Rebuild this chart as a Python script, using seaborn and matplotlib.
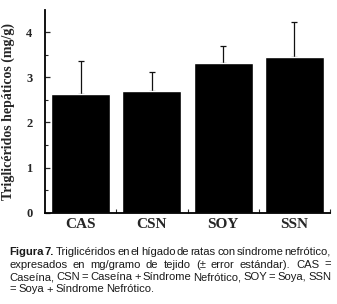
import numpy as np
import pandas as pd
import matplotlib
matplotlib.use("Agg")
import matplotlib.pyplot as plt
from matplotlib import font_manager
import seaborn as sns

# data
groups = ["CAS", "CSN", "SOY", "SSN"]
trig = [2.62, 2.69, 3.31, 3.44]
err_up = [0.75, 0.42, 0.39, 0.78]

caption_lines = [
    [("Figura", True), ("7.", True), ("Triglicéridos", False), ("en", False), ("el", False),
     ("hígado", False), ("de", False), ("ratas", False), ("con", False), ("síndrome", False),
     ("nefrótico,", False)],
    [(w, False) for w in "expresados en mg/gramo de tejido (± error estándar). CAS =".split()],
    [(w, False) for w in "Caseína, CSN = Caseína + Síndrome Nefrótico, SOY = Soya, SSN".split()],
    [(w, False) for w in "= Soya + Síndrome Nefrótico.".split()],
]

sns.set_style("ticks")
plt.rcParams["font.family"] = ["Liberation Serif", "DejaVu Serif"]

W, H = 337, 304
fig = plt.figure(figsize=(W / 100, H / 100), dpi=100)
ax = fig.add_axes([45 / W, 1 - 212.7 / H, 285 / W, 202.7 / H])

df = pd.DataFrame({"grupo": groups, "tg": trig})
sns.barplot(data=df, x="grupo", y="tg", color="black", saturation=1,
            width=0.83, errorbar=None, ax=ax, zorder=2)
ax.errorbar(np.arange(len(groups)), trig, yerr=[np.zeros(len(groups)), err_up],
            fmt="none", ecolor="#111111", elinewidth=0.9, capsize=2, capthick=0.9,
            zorder=1)

ax.set_xlim(-0.5, 3.5)
ax.set_ylim(0, 4.49)
ax.set_yticks([0, 1, 2, 3, 4])
ax.set_yticks(np.arange(0.5, 4.5, 1.0), minor=True)
ax.set_xticks([0.5, 1.5, 2.5, 3.5], minor=True)
ax.tick_params(axis="y", which="major", direction="in", length=3.5, width=0.9,
               labelsize=9, pad=9)
ax.tick_params(axis="y", which="minor", direction="in", length=2, width=0.8)
ax.tick_params(axis="x", which="major", length=0, labelsize=11, pad=4)
ax.tick_params(axis="x", which="minor", direction="in", length=3, width=0.8)
for lab in ax.get_xticklabels() + ax.get_yticklabels():
    lab.set_fontweight("bold")

ax.set_xlabel("")
ax.set_ylabel("Triglicéridos hepáticos (mg/g)", fontsize=10, fontweight="bold", labelpad=8)
sns.despine(ax=ax)
for s in ["left", "bottom"]:
    ax.spines[s].set_linewidth(1.3)
    ax.spines[s].set_color("black")

# caption, justified between x0 and x1 (pixels)
renderer = fig.canvas.get_renderer()
x0, x1 = 9, 331
baselines = [255, 267.5, 280, 292.5]
sans = ["Liberation Sans", "DejaVu Sans"]
names = {f.name for f in font_manager.fontManager.ttflist}
if "Liberation Sans Narrow" in names:
    sans = ["Liberation Sans Narrow"] + sans
fsize = 8.8


def make_words(line, size):
    out = []
    for w, b in line:
        t = fig.text(0, 0, w, fontsize=size, family=sans, color="#1a1a1a",
                     fontweight="bold" if b else "normal", va="baseline", ha="left",
                     transform=None)
        out.append(t)
    return out


def widths(texts):
    return [t.get_window_extent(renderer).width for t in texts]


# shrink font until the longest line fits with minimal spacing
for _ in range(6):
    worst = 0
    for line in caption_lines[:3]:
        test = make_words(line, fsize)
        ws = widths(test)
        space = fsize * 100 / 72 * 0.08
        worst = max(worst, sum(ws) + space * (len(ws) - 1))
        for t in test:
            t.remove()
    if worst <= (x1 - x0):
        break
    fsize *= (x1 - x0) / worst * 0.995

for i, line in enumerate(caption_lines):
    texts = make_words(line, fsize)
    ws = widths(texts)
    base_space = fsize * 100 / 72 * 0.22
    if i < len(caption_lines) - 1:
        gap = (x1 - x0 - sum(ws)) / (len(ws) - 1)
    else:
        gap = base_space
    x = x0
    y = H - baselines[i]
    for t, w in zip(texts, ws):
        t.set_position((x, y))
        x += w + gap

fig.savefig("out.png", dpi=100)
